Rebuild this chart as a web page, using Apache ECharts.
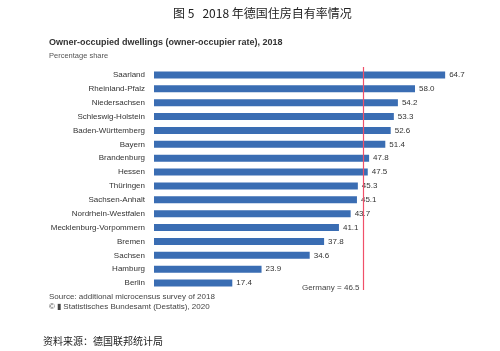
<!DOCTYPE html>
<html>
<head>
<meta charset="utf-8">
<script src="https://cdn.jsdelivr.net/npm/echarts@6/dist/echarts.min.js"></script>
<style>
  html, body { margin: 0; padding: 0; background: #fff; }
  #chart { width: 500px; height: 351px; }
</style>
</head>
<body>
<div id="chart"></div>
<script>
// 各州自有住房率（%）
const states = ['Saarland', 'Rheinland-Pfalz', 'Niedersachsen', 'Schleswig-Holstein',
  'Baden-Württemberg', 'Bayern', 'Brandenburg', 'Hessen', 'Thüringen', 'Sachsen-Anhalt',
  'Nordrhein-Westfalen', 'Mecklenburg-Vorpommern', 'Bremen', 'Sachsen', 'Hamburg', 'Berlin'];
const rates = [64.7, 58.0, 54.2, 53.3, 52.6, 51.4, 47.8, 47.5, 45.3, 45.1, 43.7, 41.1, 37.8, 34.6, 23.9, 17.4];
const germany = 46.5;

const chart = echarts.init(document.getElementById('chart'));
chart.setOption({
  animation: false,
  grid: { left: 154, top: 68, width: 315, height: 222 },
  title: [
    { text: '图 5   2018 年德国住房自有率情况', left: 168, top: 2,
      textStyle: { fontFamily: 'Noto Sans CJK SC', fontSize: 12, fontWeight: 'normal', color: '#222' } },
    { text: 'Owner-occupied dwellings (owner-occupier rate), 2018', left: 44, top: 33,
      textStyle: { fontFamily: 'Liberation Sans', fontSize: 9, fontWeight: 'bold', color: '#333' } },
    { text: 'Percentage share', left: 44, top: 47,
      textStyle: { fontFamily: 'Liberation Sans', fontSize: 7.5, fontWeight: 'normal', color: '#555' } },
    { text: 'Source: additional microcensus survey of 2018', left: 44, top: 288,
      textStyle: { fontFamily: 'Liberation Sans', fontSize: 8, fontWeight: 'normal', color: '#444' } },
    { text: '© ▮ Statistisches Bundesamt (Destatis), 2020', left: 44, top: 298,
      textStyle: { fontFamily: 'Liberation Sans', fontSize: 8, fontWeight: 'normal', color: '#444' } },
    { text: '资料来源：德国联邦统计局', left: 38, top: 331,
      textStyle: { fontFamily: 'Noto Sans CJK SC', fontSize: 10, fontWeight: 'normal', color: '#222' } }
  ],
  xAxis: {
    type: 'value', min: 0, max: 70, show: false
  },
  yAxis: {
    type: 'category', data: states, inverse: true,
    axisLine: { show: false }, axisTick: { show: false },
    axisLabel: { fontFamily: 'Liberation Sans', fontSize: 8, color: '#333', margin: 9 }
  },
  series: [{
    type: 'bar', data: rates, barWidth: 7,
    itemStyle: { color: '#3a6db3' },
    label: { show: true, position: 'right', distance: 4,
      formatter: p => p.value.toFixed(1),
      fontFamily: 'Liberation Sans', fontSize: 8, color: '#333' }
  }]
});

// 全国平均线及标签
const x0 = Math.round(chart.convertToPixel({ xAxisIndex: 0 }, germany)) + 0.5;
chart.setOption({
  graphic: [
    { type: 'line', z: 10,
      shape: { x1: x0, y1: 67, x2: x0, y2: 290 },
      style: { stroke: '#f0506a', lineWidth: 1.2 } },
    { type: 'text', z: 10, x: x0 - 4, y: 288,
      style: { text: 'Germany = ' + germany, align: 'right', verticalAlign: 'middle',
        font: '8px "Liberation Sans"', fill: '#444' } }
  ]
});
</script>
</body>
</html>
